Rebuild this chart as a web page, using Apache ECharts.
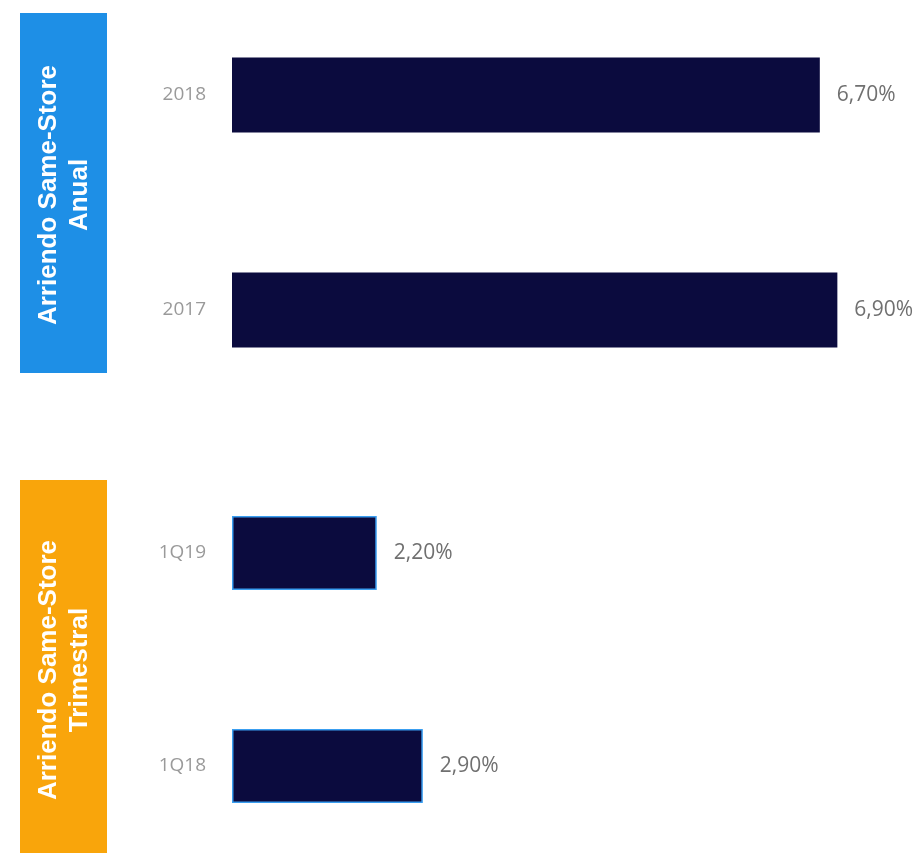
<!DOCTYPE html>
<html>
<head>
<meta charset="utf-8">
<title>Arriendo Same-Store</title>
<script src="https://cdn.jsdelivr.net/npm/echarts@6/dist/echarts.min.js"></script>
<style>
  html, body { margin: 0; padding: 0; background: #ffffff; }
  #chart { width: 917px; height: 853px; }
</style>
</head>
<body>
<div id="chart"></div>
<script>
// Annual same-store rent growth (%)
const annualCategories = ['2018', '2017'];
const annualValues = [6.7, 6.9];

// Quarterly same-store rent growth (%)
const quarterlyCategories = ['1Q19', '1Q18'];
const quarterlyValues = [2.2, 2.9];

// Section titles shown in the coloured side panels
const annualTitle = 'Arriendo Same-Store\nAnual';
const quarterlyTitle = 'Arriendo Same-Store\nTrimestral';

const BAR_COLOR = '#0b0b3e';
const fmt = v => v.toFixed(2).replace('.', ',') + '%';

const chart = echarts.init(document.getElementById('chart'), null, { renderer: 'canvas' });

const catAxis = (gridIndex, data) => ({
  type: 'category',
  gridIndex,
  data,
  inverse: true,
  boundaryGap: false,
  axisLine: { show: false },
  axisTick: { show: false },
  splitLine: { show: false },
  axisLabel: {
    margin: 26,
    color: '#9a9a9a',
    fontFamily: 'Open Sans',
    fontSize: 19
  }
});

const valAxis = (gridIndex, max) => ({
  type: 'value',
  gridIndex,
  min: 0,
  max,
  show: false,
  splitLine: { show: false }
});

const valueLabel = {
  show: true,
  position: 'right',
  distance: 17,
  color: '#707070',
  fontFamily: 'Open Sans',
  fontSize: 21,
  formatter: p => fmt(p.value)
};

const titleStyle = text => ({
  text,
  fill: '#ffffff',
  font: 'bold 26px "Liberation Sans", Arial, sans-serif',
  align: 'center',
  verticalAlign: 'middle',
  lineHeight: 31
});

const option = {
  backgroundColor: '#ffffff',
  animation: false,
  graphic: [
    {
      type: 'rect',
      shape: { x: 20, y: 13, width: 87, height: 360 },
      style: { fill: '#1e8fe6' },
      silent: true
    },
    {
      type: 'text',
      x: 64, y: 195,
      rotation: Math.PI / 2,
      style: titleStyle(annualTitle),
      silent: true
    },
    {
      type: 'rect',
      shape: { x: 20, y: 480, width: 87, height: 380 },
      style: { fill: '#f9a50b' },
      silent: true
    },
    {
      type: 'text',
      x: 64, y: 670,
      rotation: Math.PI / 2,
      style: titleStyle(quarterlyTitle),
      silent: true
    }
  ],
  grid: [
    { left: 232, top: 95, width: 658, height: 215, containLabel: false },
    { left: 232, top: 553, width: 658, height: 213, containLabel: false }
  ],
  xAxis: [valAxis(0, 7.5), valAxis(1, 10)],
  yAxis: [catAxis(0, annualCategories), catAxis(1, quarterlyCategories)],
  series: [
    {
      type: 'bar',
      xAxisIndex: 0,
      yAxisIndex: 0,
      data: annualValues,
      barWidth: 75,
      itemStyle: { color: BAR_COLOR },
      label: valueLabel
    },
    {
      type: 'bar',
      xAxisIndex: 1,
      yAxisIndex: 1,
      data: quarterlyValues,
      barWidth: 74,
      itemStyle: { color: BAR_COLOR, borderColor: '#3a9ef0', borderWidth: 1.5 },
      label: valueLabel
    }
  ]
};

chart.setOption(option);
</script>
</body>
</html>
